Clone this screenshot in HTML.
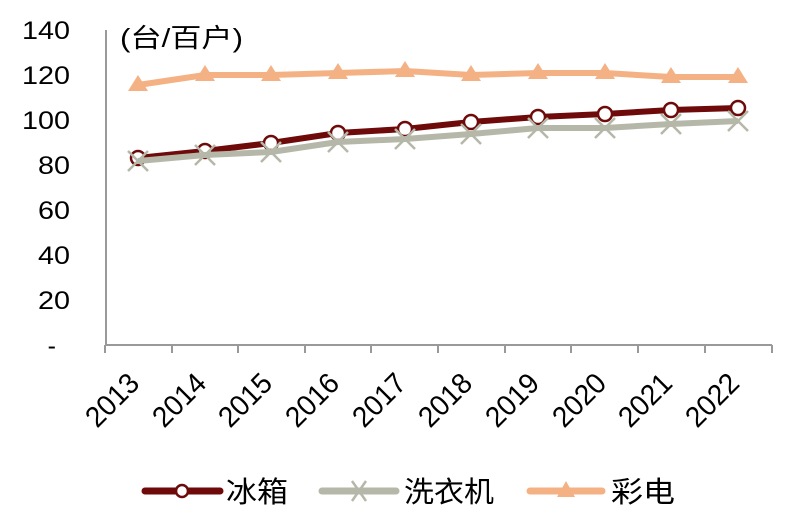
<!DOCTYPE html>
<html><head><meta charset="utf-8"><style>
html,body{margin:0;padding:0;background:#fff;}
svg text{font-family:"Liberation Sans","Noto Sans CJK SC",sans-serif;fill:#000;}
</style></head><body>
<svg width="800" height="517" viewBox="0 0 800 517" xmlns="http://www.w3.org/2000/svg">
<g font-size="25" text-anchor="end">
<text x="70" y="39" textLength="48" lengthAdjust="spacingAndGlyphs">140</text>
<text x="70" y="84" textLength="48" lengthAdjust="spacingAndGlyphs">120</text>
<text x="70" y="129" textLength="48" lengthAdjust="spacingAndGlyphs">100</text>
<text x="70" y="174" textLength="32" lengthAdjust="spacingAndGlyphs">80</text>
<text x="70" y="219" textLength="32" lengthAdjust="spacingAndGlyphs">60</text>
<text x="70" y="264" textLength="32" lengthAdjust="spacingAndGlyphs">40</text>
<text x="70" y="309" textLength="32" lengthAdjust="spacingAndGlyphs">20</text>
<text x="56" y="354">-</text>
</g>
<text x="120" y="47" font-size="26" textLength="123" lengthAdjust="spacingAndGlyphs">(台/百户)</text>
<g stroke="#999" stroke-width="2" fill="none">
<line x1="106" y1="30" x2="106" y2="345"/>
<line x1="105" y1="345" x2="772" y2="345"/>
<path d="M105 345V353M172 345V353M238 345V353M305 345V353M371 345V353M438 345V353M505 345V353M571 345V353M638 345V353M705 345V353M772 345V353"/>
</g>
<g font-size="29" text-anchor="end">
<text transform="translate(141,385) rotate(-45)" textLength="62" lengthAdjust="spacingAndGlyphs">2013</text>
<text transform="translate(208,385) rotate(-45)" textLength="62" lengthAdjust="spacingAndGlyphs">2014</text>
<text transform="translate(274,385) rotate(-45)" textLength="62" lengthAdjust="spacingAndGlyphs">2015</text>
<text transform="translate(341,385) rotate(-45)" textLength="62" lengthAdjust="spacingAndGlyphs">2016</text>
<text transform="translate(408,385) rotate(-45)" textLength="62" lengthAdjust="spacingAndGlyphs">2017</text>
<text transform="translate(474,385) rotate(-45)" textLength="62" lengthAdjust="spacingAndGlyphs">2018</text>
<text transform="translate(541,385) rotate(-45)" textLength="62" lengthAdjust="spacingAndGlyphs">2019</text>
<text transform="translate(608,385) rotate(-45)" textLength="62" lengthAdjust="spacingAndGlyphs">2020</text>
<text transform="translate(674,385) rotate(-45)" textLength="62" lengthAdjust="spacingAndGlyphs">2021</text>
<text transform="translate(741,385) rotate(-45)" textLength="62" lengthAdjust="spacingAndGlyphs">2022</text>
</g>
<!-- 彩电 -->
<polyline fill="none" stroke="#F4B183" stroke-width="6" stroke-linejoin="round" points="138,85 205,75 271,75 338,73 405,71 471,75 538,73 605,73 671,77 738,77"/>
<g fill="#F4B183">
<path d="M138,75 l-10,16 h20z"/><path d="M205,65 l-10,16 h20z"/><path d="M271,65 l-10,16 h20z"/><path d="M338,63 l-10,16 h20z"/><path d="M405,61 l-10,16 h20z"/><path d="M471,65 l-10,16 h20z"/><path d="M538,63 l-10,16 h20z"/><path d="M605,63 l-10,16 h20z"/><path d="M671,67 l-10,16 h20z"/><path d="M738,67 l-10,16 h20z"/>
</g>
<!-- 冰箱 -->
<polyline fill="none" stroke="#6E0A0A" stroke-width="6" stroke-linejoin="round" points="138,158 205,151 271,143 338,133 405,129 471,122 538,117 605,114 671,110 738,108"/>
<g fill="#fff" stroke="#6E0A0A" stroke-width="2.5">
<circle cx="138" cy="158" r="7"/><circle cx="205" cy="151" r="7"/><circle cx="271" cy="143" r="7"/><circle cx="338" cy="133" r="7"/><circle cx="405" cy="129" r="7"/><circle cx="471" cy="122" r="7"/><circle cx="538" cy="117" r="7"/><circle cx="605" cy="114" r="7"/><circle cx="671" cy="110" r="7"/><circle cx="738" cy="108" r="7"/>
</g>
<!-- 洗衣机 -->
<polyline fill="none" stroke="#B5B8A8" stroke-width="6" stroke-linejoin="round" points="138,161 205,155 271,152 338,142 405,139 471,134 538,128 605,128 671,124 738,121"/>
<g stroke="#B5B8A8" stroke-width="2.5">
<path d="M128,151l20,20M148,151l-20,20M195,145l20,20M215,145l-20,20M261,142l20,20M281,142l-20,20M328,132l20,20M348,132l-20,20M395,129l20,20M415,129l-20,20M461,124l20,20M481,124l-20,20M528,118l20,20M548,118l-20,20M595,118l20,20M615,118l-20,20M661,114l20,20M681,114l-20,20M728,111l20,20M748,111l-20,20"/>
</g>
<!-- legend -->
<line x1="145" y1="491" x2="220" y2="491" stroke="#6E0A0A" stroke-width="7" stroke-linecap="round"/>
<circle cx="182" cy="491" r="6" fill="#fff" stroke="#6E0A0A" stroke-width="2.5"/>
<text x="226" y="502" font-size="29" textLength="62" lengthAdjust="spacingAndGlyphs">冰箱</text>
<line x1="322" y1="491" x2="396" y2="491" stroke="#B5B8A8" stroke-width="7" stroke-linecap="round"/>
<path d="M352,481l14,20M366,481l-14,20" stroke="#B5B8A8" stroke-width="2.5"/>
<text x="404" y="502" font-size="29" textLength="90" lengthAdjust="spacingAndGlyphs">洗衣机</text>
<line x1="530" y1="491" x2="602" y2="491" stroke="#F4B183" stroke-width="7" stroke-linecap="round"/>
<path d="M566,481l-9,16h18z" fill="#F4B183"/>
<text x="611" y="502" font-size="29" textLength="64" lengthAdjust="spacingAndGlyphs">彩电</text>
</svg>
</body></html>
